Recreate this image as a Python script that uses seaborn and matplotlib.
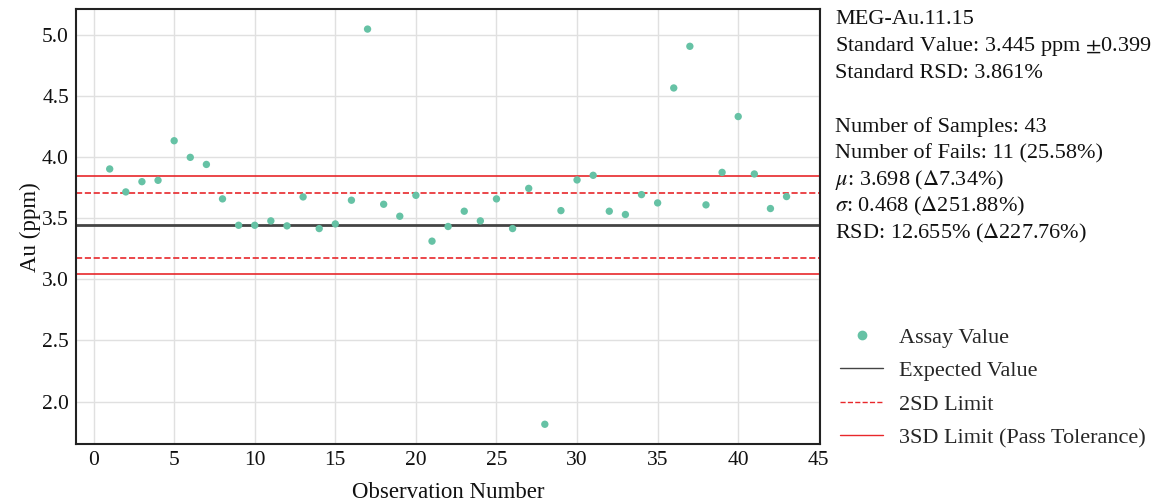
import numpy as np
import pandas as pd
import matplotlib
matplotlib.use("Agg")
import matplotlib.pyplot as plt
import seaborn as sns
from matplotlib.lines import Line2D

# ---- data ----
observation = list(range(1, 44))
au_ppm = [3.904, 3.716, 3.800, 3.811, 4.135, 3.999, 3.941, 3.659, 3.443, 3.443,
          3.479, 3.438, 3.675, 3.416, 3.454, 3.648, 5.049, 3.615, 3.517, 3.688,
          3.313, 3.433, 3.558, 3.479, 3.659, 3.416, 3.745, 1.814, 3.563, 3.814,
          3.852, 3.558, 3.531, 3.694, 3.626, 4.567, 4.908, 3.610, 3.876, 4.333,
          3.863, 3.580, 3.678]
expected_value = 3.445
sd = 0.133
x_ticks = [0, 5, 10, 15, 20, 25, 30, 35, 40, 45]
y_ticks = [2.0, 2.5, 3.0, 3.5, 4.0, 4.5, 5.0]
info_lines = [
    "MEG-Au.11.15",
    "Standard Value: 3.445 ppm $\\pm$0.399",
    "Standard RSD: 3.861%",
    "",
    "Number of Samples: 43",
    "Number of Fails: 11 (25.58%)",
    "$\\mu$: 3.698 ($\\Delta$7.34%)",
    "$\\sigma$: 0.468 ($\\Delta$251.88%)",
    "RSD: 12.655% ($\\Delta$227.76%)",
]
legend_labels = ["Assay Value", "Expected Value", "2SD Limit", "3SD Limit (Pass Tolerance)"]

df = pd.DataFrame({"Observation Number": observation, "Au (ppm)": au_ppm})

sns.set_theme(style="whitegrid")
plt.rcParams["font.family"] = ["Liberation Serif", "DejaVu Serif"]
plt.rcParams["mathtext.fontset"] = "stix"

point_color = "#66c2a5"
red = "#e8282b"

fig = plt.figure(figsize=(11.67, 5.04), dpi=100)
ax = fig.add_axes([0.065, 0.119, 0.638, 0.8625])

ax.axhline(expected_value, color="#444444", lw=2.0, zorder=2)
for k, ls in [(2, "--"), (3, "-")]:
    ax.axhline(expected_value + k * sd, color=red, lw=1.2, ls=ls, zorder=2)
    ax.axhline(expected_value - k * sd, color=red, lw=1.2, ls=ls, zorder=2)

sns.scatterplot(data=df, x="Observation Number", y="Au (ppm)", ax=ax,
                color=point_color, s=28, edgecolor="none", zorder=3)

ax.set_xticks(x_ticks)
ax.set_yticks(y_ticks)
ax.set_yticklabels([f"{v:.1f}" for v in y_ticks])
ax.tick_params(labelsize=15.5, length=0, pad=5, labelcolor="#111111")
ax.set_xlabel("Observation Number", fontsize=16.5, labelpad=9, color="#111111")
ax.set_ylabel("Au (ppm)", fontsize=16.5, labelpad=1, color="#111111")
ax.grid(True, color="#e0e0e0", lw=1.0)
for sp in ax.spines.values():
    sp.set_color("#222222")
    sp.set_linewidth(1.5)

# info text
x0 = 0.7155
top = 1 - 20 / 504
step = 26.7 / 504
for i, line in enumerate(info_lines):
    if line:
        fig.text(x0, top - i * step, line, fontsize=16, va="center", ha="left", color="#111111")

handles = [
    Line2D([], [], marker="o", ls="none", color=point_color, markersize=6),
    Line2D([], [], color="#444444", lw=1.0),
    Line2D([], [], color=red, lw=1.0, ls="--"),
    Line2D([], [], color=red, lw=1.0),
]
fig.legend(handles, legend_labels, loc="upper left", bbox_to_anchor=(0.7198, 0.351),
           frameon=False, fontsize=16, handlelength=1.95, handletextpad=0.72,
           labelspacing=0.58, borderpad=0, borderaxespad=0)

fig.savefig("out.png", dpi=100)
